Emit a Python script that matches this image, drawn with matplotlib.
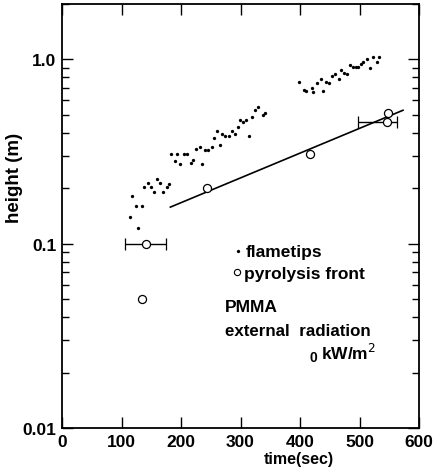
import numpy as np
import matplotlib
matplotlib.use('Agg')
from matplotlib import pyplot as plt
from matplotlib.ticker import LogLocator, NullFormatter, FixedLocator, FixedFormatter

plt.rcParams['font.family'] = ['Liberation Sans', 'DejaVu Sans']

# flametip heights (sec, m)
flame_t = [114, 118, 124, 128, 134, 138, 144, 149, 155, 160, 165, 169, 176, 180,
           183, 190, 194, 199, 205, 210, 216, 220, 225, 231, 235, 240, 245, 252,
           256, 260, 265, 269, 274, 280, 285, 290, 295, 299, 304, 309, 315, 319,
           325, 330, 337, 341,
           399, 406, 410, 420, 422, 428, 435, 439, 443, 449, 454, 459, 465, 469,
           474, 479, 484, 489, 494, 498, 503, 506, 513, 518, 523, 530, 533]
flame_h = [0.140, 0.181, 0.161, 0.122, 0.161, 0.202, 0.214, 0.202, 0.192, 0.224,
           0.214, 0.192, 0.202, 0.212,
           0.305, 0.281, 0.305, 0.271, 0.305, 0.305, 0.274, 0.283, 0.326, 0.335,
           0.271, 0.321, 0.321, 0.333, 0.375, 0.408, 0.344, 0.393, 0.385, 0.385,
           0.408, 0.393, 0.429, 0.468, 0.455, 0.472, 0.385, 0.489, 0.530, 0.553,
           0.502, 0.515,
           0.753, 0.681, 0.673, 0.696, 0.662, 0.741, 0.788, 0.673, 0.756, 0.741,
           0.815, 0.829, 0.788, 0.872, 0.839, 0.832, 0.931, 0.913, 0.905, 0.913,
           0.943, 0.963, 1.000, 0.901, 1.025, 0.963, 1.025]

# pyrolysis front
pyro_t = [135, 243, 417, 548]
pyro_h = [0.050, 0.200, 0.308, 0.515]

# pyrolysis points with time error bars
err_t = [141, 546]
err_h = [0.100, 0.456]
err_lo = [35, 48]
err_hi = [34, 17]

# fitted line
fit_t = [182, 573]
fit_h = [0.158, 0.530]

fig = plt.figure(figsize=(4.37, 4.77), dpi=100)
ax = fig.add_axes([0.142, 0.1006, 0.817, 0.889])

ax.plot(fit_t, fit_h, color='black', lw=1.2)
ax.plot(flame_t, flame_h, 'o', color='black', ms=2.4, mew=0)
ax.errorbar(err_t, err_h, xerr=[err_lo, err_hi], fmt='o', mfc='white', mec='black',
            ms=5.8, mew=0.9, ecolor='black', elinewidth=1.0, capsize=4, capthick=1.0)
ax.plot(pyro_t, pyro_h, 'o', mfc='white', mec='black', ms=5.8, mew=0.9)

ax.set_yscale('log')
ax.set_xlim(0, 600)
ax.set_ylim(0.01, 2.0)

ax.xaxis.set_major_locator(FixedLocator([0, 100, 200, 300, 400, 500, 600]))
ax.yaxis.set_major_locator(FixedLocator([0.01, 0.1, 1.0]))
ax.yaxis.set_major_formatter(FixedFormatter(['0.01', '0.1', '1.0']))
ax.yaxis.set_minor_locator(LogLocator(base=10, subs=np.arange(2, 10)))
ax.yaxis.set_minor_formatter(NullFormatter())

ax.tick_params(which='both', direction='in', top=True, right=True, width=1.0)
ax.tick_params(which='major', length=8, labelsize=12.5, pad=4)
ax.tick_params(which='minor', length=5)
for lab in ax.get_xticklabels() + ax.get_yticklabels():
    lab.set_fontweight('bold')
for s in ax.spines.values():
    s.set_linewidth(1.3)

fig.text(15 / 437, 1 - 178 / 477, 'height (m)', rotation=90, ha='center', va='center',
         fontsize=13.5, fontweight='bold')
fig.text(299 / 437, 1 - 460 / 477, 'time(sec)', ha='center', va='center',
         fontsize=11.5, fontweight='bold')

# legend and annotations
fig.lines.append(plt.Line2D([238 / 437], [1 - 252 / 477], marker='o', color='black', ms=2.4,
                            mew=0, ls='none', transform=fig.transFigure))
fig.lines.append(plt.Line2D([237 / 437], [1 - 273 / 477], marker='o', mfc='white', mec='black',
                            ms=4.5, mew=0.8, ls='none', transform=fig.transFigure))
fig.text(246 / 437, 1 - 252 / 477, 'flametips', ha='left', va='center', fontsize=12.5, fontweight='bold')
fig.text(244 / 437, 1 - 274 / 477, 'pyrolysis front', ha='left', va='center', fontsize=12.5, fontweight='bold')
fig.text(225 / 437, 1 - 308 / 477, 'PMMA', ha='left', va='center', fontsize=12.5, fontweight='bold')
fig.text(225 / 437, 1 - 331 / 477, 'external  radiation', ha='left', va='center', fontsize=12.2, fontweight='bold')
fig.text(309 / 437, 1 - 358 / 477, '0', ha='left', va='center', fontsize=10, fontweight='bold')
fig.text(321 / 437, 1 - 353 / 477, 'kW/m$^2$', ha='left', va='center', fontsize=12.5, fontweight='bold')

fig.savefig('out.png', dpi=100)
